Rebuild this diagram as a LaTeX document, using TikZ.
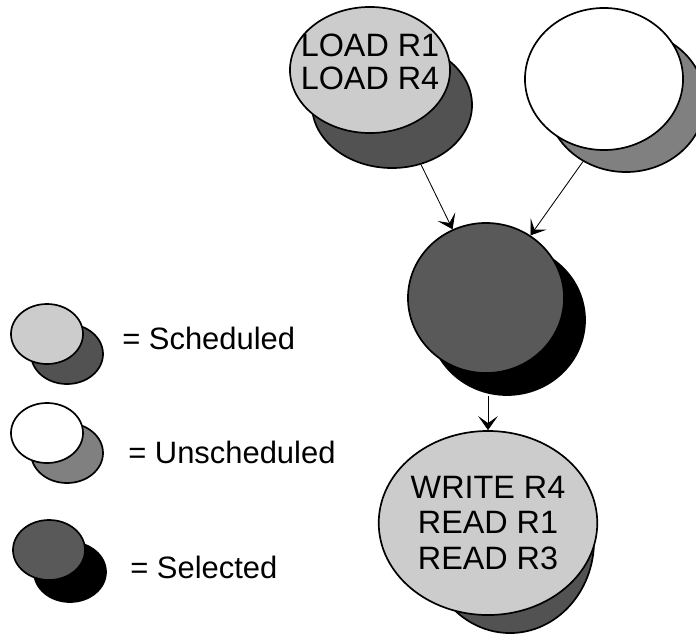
\documentclass[tikz,border=0pt]{standalone}
\usepackage{fontspec}
\setmainfont{Liberation Sans}
\usetikzlibrary{arrows.meta,shapes.geometric,positioning}
\tikzstyle{blob}=[ellipse,draw=black,line width=1.2pt,inner sep=0pt,align=center,font=\fontsize{23}{25.5}\selectfont]
\tikzstyle{scheduled}=[blob,fill=black!20]
\tikzstyle{unscheduled}=[blob,fill=white]
\tikzstyle{selected}=[blob,fill=black!65]
\tikzstyle{sched shadow}=[blob,fill=black!68]
\tikzstyle{unsched shadow}=[blob,fill=black!50]
\tikzstyle{sel shadow}=[blob,fill=black]
\tikzstyle{key}=[minimum width=1.8cm,minimum height=1.5cm]
\tikzstyle{keytext}=[anchor=west,inner sep=0pt,font=\fontsize{22}{25}\selectfont]
\tikzstyle{every edge}=[draw,line width=0.6pt,>={Stealth[length=10pt,width=14pt,inset=5pt]}]

\begin{document}
\begin{tikzpicture}[x=0.025cm,y=-0.025cm,>={Stealth[length=10pt,width=14pt,inset=5pt]}]
  \useasboundingbox (0,0) rectangle (696,640);

  % graph
  \node[sched shadow,minimum width=4cm,minimum height=3.15cm]   (load-s) at (392,105) {};
  \node[scheduled,minimum width=4cm,minimum height=3.15cm,
        label={[align=center,font=\fontsize{23}{23.5}\selectfont,yshift=0.2cm]center:{LOAD R1\\LOAD R4}}]
                                                                (load)   at (370,70)  {};
  \node[unsched shadow,minimum width=3.95cm,minimum height=3.55cm] (free-s) at (626,101) {};
  \node[unscheduled,minimum width=3.95cm,minimum height=3.55cm]    (free)   at (604,79)  {};
  \node[sel shadow,minimum width=3.9cm,minimum height=3.75cm]   (pick-s) at (507,320) {};
  \node[selected,minimum width=3.9cm,minimum height=3.75cm]     (pick)   at (486,298) {};
  \node[sched shadow,minimum width=4.2cm,minimum height=4.6cm]  (rw-s)   at (510,541) {};
  \node[scheduled,minimum width=4.2cm,minimum height=4.6cm]     (rw)     at (488,523) {WRITE R4\\READ R1\\READ R3};

  \path[->] (load-s) edge (pick)
            (free-s) edge (pick)
            (rw.north |- pick-s.south) edge (rw);

  % key
  \node[sched shadow,key]   (ks-s) at (67,354) {};
  \node[scheduled,key]      (ks)   at (47,334) {};
  \node[unsched shadow,key] (ku-s) at (67,453) {};
  \node[unscheduled,key]    (ku)   at (47,433) {};
  \node[sel shadow,key]     (kp-s) at (70,572) {};
  \node[selected,key]       (kp)   at (49,550) {};

  \node[keytext] (ks-t) at (122,338) {= Scheduled};
  \node[keytext] (ku-t) at (128,452) {= Unscheduled};
  \node[keytext] (kp-t) at (130,567) {= Selected};
\end{tikzpicture}
\end{document}
